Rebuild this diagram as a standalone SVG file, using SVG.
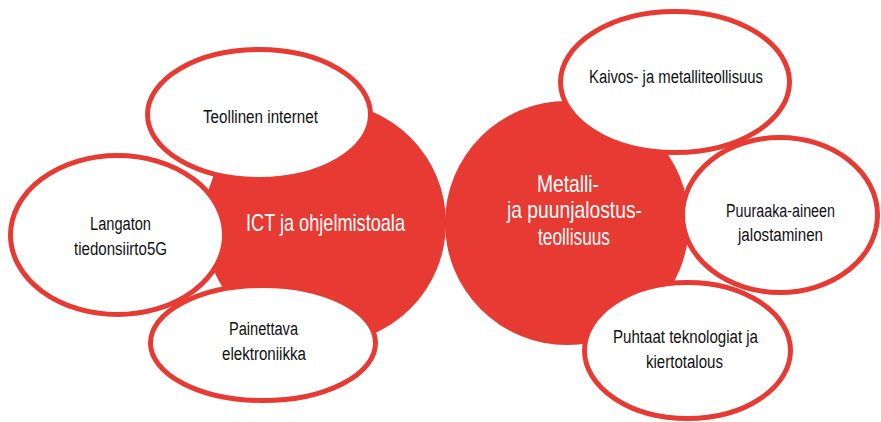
<svg xmlns="http://www.w3.org/2000/svg" width="881" height="422" viewBox="0 0 881 422">
<style>
.hub{fill:#E63A32}
.sat{fill:#ffffff;stroke:#E63A32;stroke-width:5}
.t{font-family:"Liberation Sans",Arial,sans-serif;font-size:18px;fill:#111111;lengthAdjust:spacingAndGlyphs}
.w{font-family:"Liberation Sans",Arial,sans-serif;font-size:24px;fill:#ffffff}
</style>
<rect width="881" height="422" fill="#ffffff"/>
<g id="hub-ict">
<circle class="hub" cx="325" cy="223" r="121"/>
<text class="w" x="246" y="231" textLength="159" lengthAdjust="spacingAndGlyphs">ICT ja ohjelmistoala</text>
</g>
<g id="hub-metalli">
<circle class="hub" cx="567" cy="223" r="122"/>
<text class="w" x="537" y="192" textLength="62" lengthAdjust="spacingAndGlyphs">Metalli-</text>
<text class="w" x="507" y="218" textLength="135" lengthAdjust="spacingAndGlyphs">ja  puunjalostus-</text>
<text class="w" x="538" y="245" textLength="72" lengthAdjust="spacingAndGlyphs">teollisuus</text>
</g>
<g id="connectors"></g>
<g id="langaton">
<ellipse class="sat" cx="117.5" cy="235" rx="107" ry="79.5"/>
<text class="t" x="90" y="230" textLength="61" lengthAdjust="spacingAndGlyphs">Langaton</text>
<text class="t" x="74" y="255" textLength="93" lengthAdjust="spacingAndGlyphs">tiedonsiirto5G</text>
</g>
<g id="teollinen">
<ellipse class="sat" cx="259" cy="114.5" rx="111.5" ry="65"/>
<text class="t" x="203" y="123" textLength="115" lengthAdjust="spacingAndGlyphs">Teollinen internet</text>
</g>
<g id="painettava">
<ellipse class="sat" cx="263" cy="343" rx="112.5" ry="57.5"/>
<text class="t" x="229" y="335" textLength="69" lengthAdjust="spacingAndGlyphs">Painettava</text>
<text class="t" x="222" y="360" textLength="84" lengthAdjust="spacingAndGlyphs">elektroniikka</text>
</g>
<g id="kaivos">
<ellipse class="sat" cx="675" cy="82" rx="114.5" ry="70.5"/>
<text class="t" x="589" y="83" textLength="174" lengthAdjust="spacingAndGlyphs">Kaivos- ja metalliteollisuus</text>
</g>
<g id="puuraaka">
<ellipse class="sat" cx="780" cy="215" rx="97.5" ry="77.5"/>
<text class="t" x="726" y="217" textLength="109" lengthAdjust="spacingAndGlyphs">Puuraaka-aineen</text>
<text class="t" x="738" y="241" textLength="85" lengthAdjust="spacingAndGlyphs">jalostaminen</text>
</g>
<g id="puhtaat">
<ellipse class="sat" cx="687.5" cy="350.5" rx="103" ry="68"/>
<text class="t" x="613" y="343" textLength="145" lengthAdjust="spacingAndGlyphs">Puhtaat teknologiat ja</text>
<text class="t" x="646" y="368" textLength="77" lengthAdjust="spacingAndGlyphs">kiertotalous</text>
</g>
</svg>
